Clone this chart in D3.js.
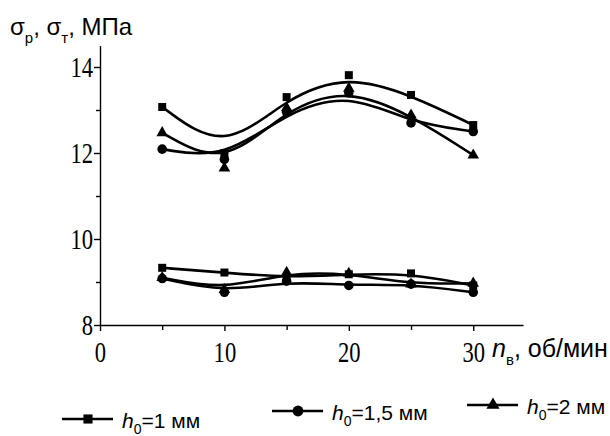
<!DOCTYPE html>
<html>
<head>
<meta charset="utf-8">
<script src="https://cdn.jsdelivr.net/npm/d3@7"></script>
<style>
  body { margin: 0; background: #fff; }
  svg { display: block; }
</style>
</head>
<body>
<div id="chart"></div>
<script>
// rotation speed, об/мин
const speeds = [5, 10, 15, 20, 25, 30];
// sigma_p (upper group)
const sigmaP_h1  = [13.07, 12.0, 13.3, 13.81, 13.35, 12.65];
const sigmaP_h15 = [12.09, 11.85, 12.95, 13.4, 12.7, 12.5];
const sigmaP_h2  = [12.47, 11.65, 13.05, 13.5, 12.88, 11.95];
// sigma_t (lower group)
const sigmaT_h1  = [9.33, 9.22, 9.1, 9.18, 9.2, 8.92];
const sigmaT_h15 = [9.08, 8.76, 9.02, 8.92, 8.95, 8.76];
const sigmaT_h2  = [9.1, 8.82, 9.22, 9.2, 8.95, 8.97];
const thickness = ["1", "1,5", "2"];
const xTicks = [0, 10, 20, 30];
const xMinor = [5, 15, 25];
const yTicks = [8, 10, 12, 14];
const yMinor = [9, 11, 13];

const width = 610, height = 436;
const svg = d3.select("#chart").append("svg")
  .attr("width", width)
  .attr("height", height);

const x = d3.scaleLinear().domain([0, 34]).range([100, 523]);
const y = d3.scaleLinear().domain([8, 14.5]).range([325, 45.5]);

const symbols = [d3.symbolSquare, d3.symbolCircle, d3.symbolTriangle];
const symSizes = [64, 72, 58];

const series = [
  {vals: sigmaP_h1, s: 0}, {vals: sigmaP_h15, s: 1}, {vals: sigmaP_h2, s: 2},
  {vals: sigmaT_h1, s: 0}, {vals: sigmaT_h15, s: 1}, {vals: sigmaT_h2, s: 2}
];

const serif = "'Liberation Serif', 'DejaVu Serif', serif";
const sans = "'Liberation Sans', Arial, sans-serif";

// axes
svg.append("g")
  .attr("transform", `translate(${x(0)},0)`)
  .call(d3.axisLeft(y).tickValues(yTicks).tickSize(6).tickSizeOuter(0).tickPadding(1).tickFormat(d3.format("d")));
svg.append("g")
  .attr("transform", `translate(${x(0)},0)`)
  .call(d3.axisLeft(y).tickValues(yMinor).tickSize(4).tickFormat(""))
  .call(g => g.select(".domain").remove());

svg.append("g")
  .attr("transform", `translate(0,${y(8)})`)
  .call(d3.axisBottom(x).tickValues(xTicks).tickSize(6).tickSizeOuter(0).tickPadding(10).tickFormat(d3.format("d")));
svg.append("g")
  .attr("transform", `translate(0,${y(8)})`)
  .call(d3.axisBottom(x).tickValues(xMinor).tickSize(5).tickFormat(""))
  .call(g => g.select(".domain").remove());

svg.selectAll(".domain, .tick line")
  .attr("stroke", "#000")
  .attr("stroke-width", 1.4);

svg.selectAll(".tick text")
  .style("font-family", serif)
  .style("font-size", "30px")
  .attr("fill", "#000")
  .attr("textLength", function() { return this.textContent.length * 11.3; })
  .attr("lengthAdjust", "spacingAndGlyphs");

// curves (B-spline through data)
const line = d3.line()
  .x((d, i) => x(speeds[i]))
  .y(d => y(d))
  .curve(d3.curveBasis);

svg.append("g").selectAll("path")
  .data(series)
  .join("path")
    .attr("d", d => line(d.vals))
    .attr("fill", "none")
    .attr("stroke", "#000")
    .attr("stroke-width", 2.6);

// markers
series.forEach(sr => {
  svg.append("g").selectAll("path")
    .data(sr.vals)
    .join("path")
      .attr("d", d3.symbol().type(symbols[sr.s]).size(symSizes[sr.s]))
      .attr("transform", (d, i) => `translate(${x(speeds[i])},${y(d)})`)
      .attr("fill", "#000");
});

// y axis title
const yt = svg.append("text")
  .attr("x", 10).attr("y", 35)
  .style("font-family", sans)
  .style("font-size", "24px")
  .attr("fill", "#000");
yt.append("tspan").text("σ");
yt.append("tspan").style("font-size", "15px").attr("dy", 8).text("р");
yt.append("tspan").attr("dy", -8).text(", σ");
yt.append("tspan").style("font-size", "15px").attr("dy", 8).text("т");
yt.append("tspan").attr("dy", -8).text(", МПа");

// x axis title
const xt = svg.append("text")
  .attr("x", 492).attr("y", 357)
  .style("font-family", sans)
  .style("font-size", "25px")
  .attr("fill", "#000");
xt.append("tspan").style("font-style", "italic").text("n");
xt.append("tspan").style("font-size", "15px").attr("dy", 8).text("в");
xt.append("tspan").attr("dy", -8).text(", об/мин");

// legend
const legendPos = [{x: 62, y: 419}, {x: 272, y: 411}, {x: 467, y: 405}];
thickness.forEach((t, i) => {
  const p = legendPos[i];
  const g = svg.append("g").attr("transform", `translate(${p.x},${p.y})`);
  g.append("line")
    .attr("x1", 0).attr("x2", 51).attr("y1", 0).attr("y2", 0)
    .attr("stroke", "#000").attr("stroke-width", 2.6);
  g.append("path")
    .attr("d", d3.symbol().type(symbols[i]).size(symSizes[i] * 1.3))
    .attr("transform", "translate(26,0)")
    .attr("fill", "#000");
  const tx = g.append("text")
    .attr("x", 60).attr("y", 9)
    .style("font-family", sans)
    .style("font-size", "21px")
    .attr("fill", "#000");
  tx.append("tspan").style("font-style", "italic").text("h");
  tx.append("tspan").style("font-size", "14px").attr("dy", 6).text("0");
  tx.append("tspan").attr("dy", -6).text("=" + t + " мм");
});
</script>
</body>
</html>
